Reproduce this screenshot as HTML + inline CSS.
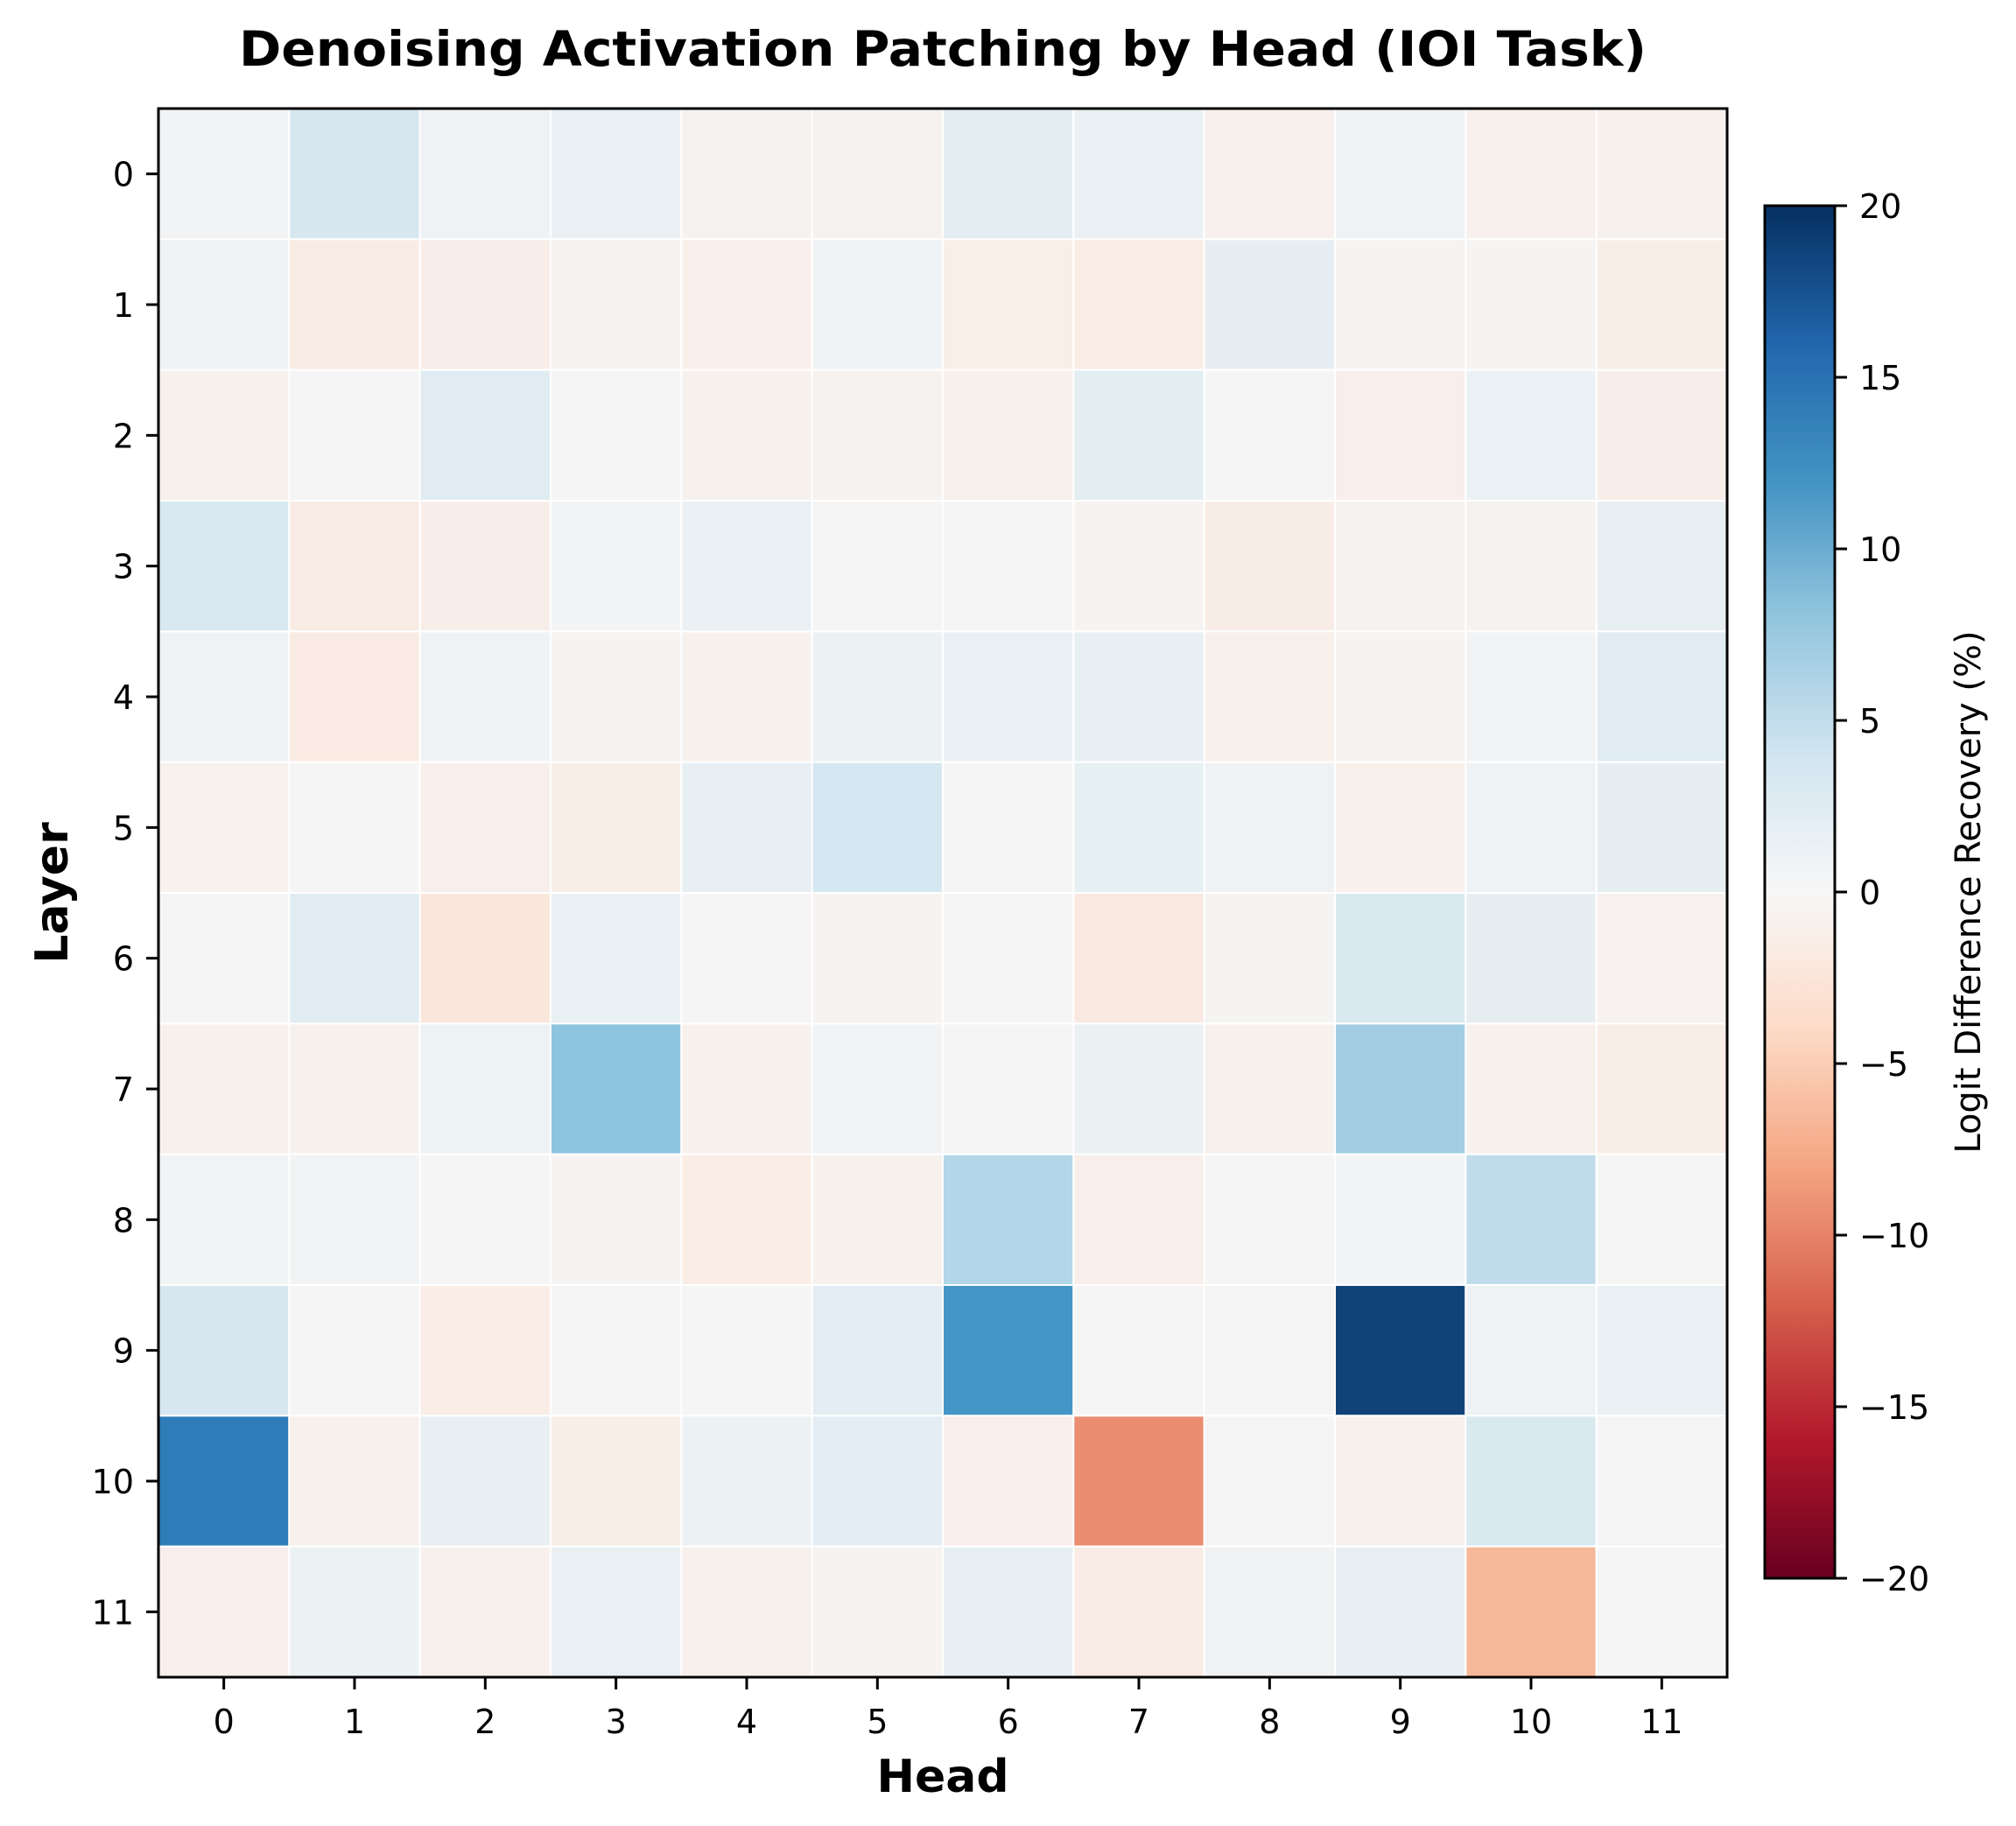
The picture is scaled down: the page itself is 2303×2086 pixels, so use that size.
<!DOCTYPE html>
<html><head><meta charset="utf-8"><style>body{margin:0;background:#fff}svg{display:block}</style></head><body>
<svg width="2303" height="2086" viewBox="0 0 2303 2086" xmlns="http://www.w3.org/2000/svg" font-family="'DejaVu Sans','Liberation Sans',sans-serif">
<defs>
<linearGradient id="cb" x1="0" y1="1" x2="0" y2="0">
<stop offset="0" stop-color="#67001f"/><stop offset="0.1" stop-color="#b2182b"/><stop offset="0.2" stop-color="#d6604d"/><stop offset="0.3" stop-color="#f4a582"/><stop offset="0.4" stop-color="#fddbc7"/><stop offset="0.5" stop-color="#f7f7f7"/><stop offset="0.6" stop-color="#d1e5f0"/><stop offset="0.7" stop-color="#92c5de"/><stop offset="0.8" stop-color="#4393c3"/><stop offset="0.9" stop-color="#2166ac"/><stop offset="1" stop-color="#053061"/>
</linearGradient>
</defs>
<text x="1077" y="75" text-anchor="middle" font-size="55" font-weight="bold" textLength="1608" lengthAdjust="spacingAndGlyphs">Denoising Activation Patching by Head (IOI Task)</text>
<g id="cells" stroke="#fff" stroke-width="2"></g>
<rect x="181" y="124" width="1792" height="1792" fill="none" stroke="#000" stroke-width="3"/>
<g id="ticks" stroke="#000" stroke-width="3"></g>
<g id="labels" font-size="38"></g>
<text x="1077" y="2047" text-anchor="middle" font-size="52" font-weight="bold">Head</text>
<text transform="translate(77,1020) rotate(-90)" text-anchor="middle" font-size="52" font-weight="bold">Layer</text>
<rect x="2016" y="235" width="80" height="1568" fill="url(#cb)" stroke="#000" stroke-width="3"/>
<g id="cbt" stroke="#000" stroke-width="3"></g>
<g id="cbl" font-size="38"></g>
<text transform="translate(2262,1019) rotate(-90)" text-anchor="middle" font-size="40">Logit Difference Recovery (%)</text>
</svg>
<script>
var C=[
["#f2f3f5","#d6e7f0","#eef2f5","#e9eff3","#f6f2ef","#f6f2ef","#e4eef2","#eaf0f3","#f7f0ec","#eff2f5","#f7f0ec","#f7f1ed"],
["#eff2f5","#f8ebe4","#f8ede8","#f6f2ef","#f8efea","#f0f3f5","#f8efe9","#f9ede6","#e6eef3","#f6f3f1","#f6f4f3","#f8eee8"],
["#f7f1ee","#f5f5f5","#e0ecf2","#f5f5f5","#f7f1ee","#f6f2f0","#f7f0ec","#e2eef2","#f5f5f5","#f8eeeb","#ebf1f4","#f8eee9"],
["#d8e8f0","#f8ebe4","#f8eee9","#f3f4f5","#eaf0f4","#f5f5f5","#f5f5f5","#f6f3f1","#f8ede6","#f6f2ef","#f6f2ef","#e8eff3"],
["#eff2f5","#f9ebe3","#eff2f5","#f6f3f1","#f7f1ed","#ecf1f4","#e9eff3","#e8eff3","#f7f0eb","#f6f3f1","#f1f3f5","#e0ebf2"],
["#f7f2ee","#f5f5f5","#f8efec","#f8eee8","#e7eff3","#d5e7f0","#f5f5f5","#e6eff2","#eef2f4","#f7f0eb","#eff2f4","#e6eef2"],
["#f5f5f5","#e1edf2","#fae7dc","#e9f0f3","#f5f5f5","#f6f3f1","#f5f5f5","#f9e9e1","#f5f4f3","#d9e9f0","#e6eef2","#f7f2ef"],
["#f7f0eb","#f7f1ed","#edf2f4","#8fc4de","#f7f1ed","#f1f3f5","#f5f5f5","#ebf0f3","#f7f1ed","#a3cde2","#f7f1ed","#f8ede7"],
["#f1f3f5","#f1f3f5","#f5f5f5","#f6f4f3","#f9ede6","#f7f1ed","#b3d6e8","#f8efea","#f5f5f5","#f3f4f5","#c0dcea","#f5f5f5"],
["#d6e7f0","#f5f5f5","#f9ede6","#f5f5f5","#f5f5f5","#e3edf3","#4396c6","#f5f5f5","#f5f5f5","#114379","#eff2f4","#eaf0f3"],
["#2f7cb8","#f7f0ec","#e8eff3","#f8eee8","#ecf1f4","#e3edf3","#f8efed","#ea8d70","#f5f5f5","#f7f1ed","#d9e9f0","#f5f5f5"],
["#f8eeec","#ecf1f4","#f7f0ec","#e9eff3","#f7f0ec","#f6f3f1","#e7eff2","#f9ece4","#f0f2f4","#e7eff2","#f5b899","#f5f5f5"]];
var NS="http://www.w3.org/2000/svg",s=1792/12;
function el(p,t,a,tx){var e=document.createElementNS(NS,t);for(var k in a)e.setAttribute(k,a[k]);if(tx!=null)e.textContent=tx;document.getElementById(p).appendChild(e);}
for(var r=0;r<12;r++)for(var c=0;c<12;c++)el("cells","rect",{x:181+c*s,y:124+r*s,width:s,height:s,fill:C[r][c]});
for(var i=0;i<12;i++){var cx=181+(i+.5)*s,cy=124+(i+.5)*s;
el("ticks","line",{x1:cx,y1:1916,x2:cx,y2:1930});el("ticks","line",{x1:167,y1:cy,x2:181,y2:cy});
el("labels","text",{x:cx,y:1980,"text-anchor":"middle"},i);el("labels","text",{x:153,y:cy+14,"text-anchor":"end"},i);}
for(var j=0;j<9;j++){var v=20-5*j,y=235+j*196;el("cbt","line",{x1:2096,y1:y,x2:2110,y2:y});
el("cbl","text",{x:2124,y:y+14},(v<0?"\u2212"+(-v):v));}
</script>
</body></html>
